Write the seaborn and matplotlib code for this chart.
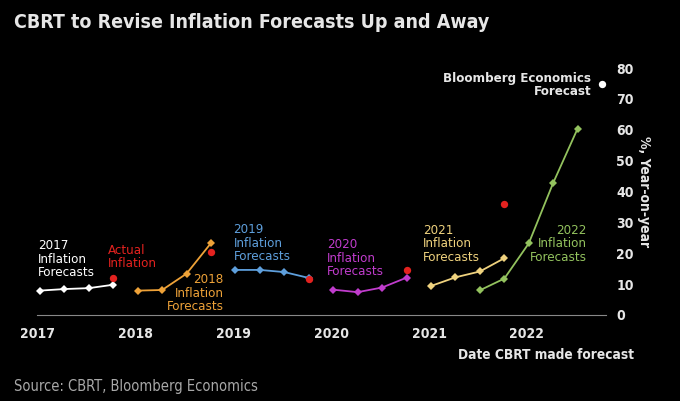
import pandas as pd
import seaborn as sns
import matplotlib.pyplot as plt

# forecast dates (decimal years) and CBRT year-end inflation forecasts, %
dates_2017 = [2017.02, 2017.27, 2017.52, 2017.77]
fc_2017 = [7.9, 8.4, 8.7, 9.8]
dates_2018 = [2018.02, 2018.27, 2018.52, 2018.77]
fc_2018 = [7.9, 8.1, 13.4, 23.3]
dates_2019 = [2019.02, 2019.27, 2019.52, 2019.77]
fc_2019 = [14.6, 14.6, 13.9, 12.0]
dates_2020 = [2020.02, 2020.27, 2020.52, 2020.77]
fc_2020 = [8.2, 7.4, 8.9, 12.1]
dates_2021 = [2021.02, 2021.27, 2021.52, 2021.77]
fc_2021 = [9.4, 12.2, 14.1, 18.4]
dates_2022 = [2021.52, 2021.77, 2022.02, 2022.27, 2022.52]
fc_2022 = [8.0, 11.8, 23.2, 42.8, 60.4]

actual_dates = [2017.77, 2018.77, 2019.77, 2020.77, 2021.77]
actual_infl = [11.9, 20.3, 11.8, 14.6, 36.1]

be_dates = [2022.77]
be_fc = [74.8]

year_ticks = [2017, 2018, 2019, 2020, 2021, 2022]
value_ticks = [0, 10, 20, 30, 40, 50, 60, 70, 80]

colors = {'2017': '#ffffff', '2018': '#eea238', '2019': '#5e9fdc',
          '2020': '#c03ccc', '2021': '#efd27e', '2022': '#93c25e'}
red = '#e3221f'

series = {'2017': (dates_2017, fc_2017), '2018': (dates_2018, fc_2018),
          '2019': (dates_2019, fc_2019), '2020': (dates_2020, fc_2020),
          '2021': (dates_2021, fc_2021), '2022': (dates_2022, fc_2022)}
df = pd.concat([pd.DataFrame({'series': k, 'date': d, 'value': v})
                for k, (d, v) in series.items()], ignore_index=True)

sns.set_theme(style='white', rc={'figure.facecolor': 'black',
                                 'axes.facecolor': 'black'})
plt.rcParams['font.family'] = ['DejaVu Sans']
plt.rcParams['font.stretch'] = 'condensed'

fig = plt.figure(figsize=(6.8, 4.01), dpi=100)
ax = fig.add_axes([37 / 680, 86 / 401, 569 / 680, 247 / 401])

sns.lineplot(data=df, x='date', y='value', hue='series', palette=colors,
             marker='D', markersize=4.5, markeredgewidth=0, linewidth=1.3,
             legend=False, ax=ax, clip_on=False)
sns.scatterplot(x=actual_dates, y=actual_infl, color=red, s=28,
                linewidth=0, ax=ax, clip_on=False, zorder=3)
sns.scatterplot(x=be_dates, y=be_fc, color='white', s=28,
                linewidth=0, ax=ax, clip_on=False, zorder=3)

ax.set_xlim(2016.99, 2022.81)
ax.set_ylim(0, 80)
ax.set_xticks(year_ticks)
ax.set_xticklabels([str(y) for y in year_ticks])
ax.set_yticks(value_ticks)
ax.yaxis.tick_right()
ax.tick_params(axis='x', colors='#888888', length=5, direction='inout',
               labelcolor='#e6e6e6', labelsize=10, pad=6)
ax.tick_params(axis='y', length=0, labelcolor='#e6e6e6', labelsize=10, pad=7.5)
for lab in ax.get_xticklabels() + ax.get_yticklabels():
    lab.set_fontweight('bold')
for s in ['top', 'left', 'right']:
    ax.spines[s].set_visible(False)
ax.spines['bottom'].set_color('#888888')
ax.spines['bottom'].set_linewidth(0.8)
ax.set_xlabel('')
ax.set_ylabel('')

fig.text(644 / 680, 1 - 192 / 401, '%, Year-on-year', rotation=270,
         ha='center', va='center', color='#e6e6e6', fontsize=10,
         fontweight='bold')

lbl = dict(fontsize=9.5, linespacing=1.05, va='center')
ax.text(2017.0, 18.1, '2017\nInflation\nForecasts', color=colors['2017'],
        ha='left', **lbl)
ax.text(2017.72, 18.8, 'Actual\nInflation', color=red, ha='left', **lbl)
ax.text(2018.9, 7.1, '2018\nInflation\nForecasts', color=colors['2018'],
        ha='right', multialignment='right', **lbl)
ax.text(2019.0, 23.3, '2019\nInflation\nForecasts', color=colors['2019'],
        ha='left', **lbl)
ax.text(2019.96, 18.3, '2020\nInflation\nForecasts', color=colors['2020'],
        ha='left', **lbl)
ax.text(2020.94, 23.0, '2021\nInflation\nForecasts', color=colors['2021'],
        ha='left', **lbl)
ax.text(2022.61, 23.0, '2022\nInflation\nForecasts', color=colors['2022'],
        ha='right', multialignment='right', **lbl)
ax.text(2022.66, 74.5, 'Bloomberg Economics\nForecast', color='#e6e6e6',
        ha='right', multialignment='right', fontweight='bold', fontsize=9.5,
        linespacing=1.05, va='center')

fig.text(14 / 680, 1 - 22 / 401, 'CBRT to Revise Inflation Forecasts Up and Away',
         color='#e6e6e6', fontsize=14, fontweight='bold', va='center', ha='left')
fig.text(634 / 680, 1 - 355 / 401, 'Date CBRT made forecast', color='#e6e6e6',
         fontsize=9.8, fontweight='bold', va='center', ha='right')
fig.text(14 / 680, 1 - 387 / 401, 'Source: CBRT, Bloomberg Economics',
         color='#a8a8a8', fontsize=10.5, va='center', ha='left')

fig.savefig('out.png', dpi=100, facecolor='black')
